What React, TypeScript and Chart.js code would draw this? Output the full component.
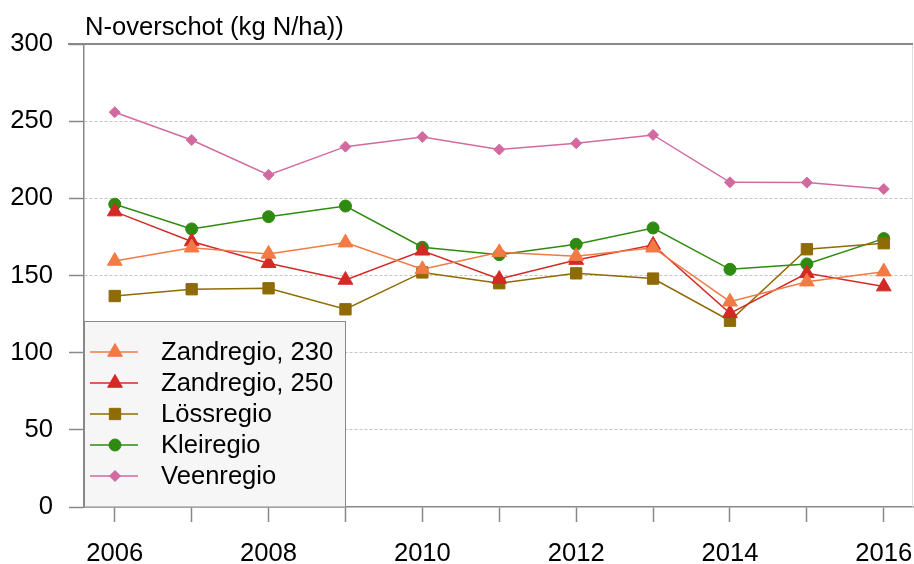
import React, { useEffect, useRef } from "react";
import { Chart, registerables } from "chart.js";
import { drawPoint } from "chart.js/helpers";

Chart.register(...registerables);

const years = [2006, 2007, 2008, 2009, 2010, 2011, 2012, 2013, 2014, 2015, 2016];
const zand230 = [159.4, 168, 164, 171.3, 154, 165, 162.5, 168, 133, 146, 152.5];
const zand250 = [191.4, 172, 157.9, 147.1, 166, 147.7, 160, 169.8, 125.5, 151.4, 142.8];
const loss = [136.7, 141.1, 141.7, 128.1, 152, 145, 151.4, 148, 120.7, 167, 170.9];
const klei = [196.2, 180.2, 188.1, 195, 168.3, 163.5, 170.2, 180.8, 154, 157.5, 173.9];
const veen = [255.8, 237.8, 215.2, 233.5, 239.8, 231.6, 235.7, 241.1, 210.4, 210.2, 206];
const seriesNames = ["Zandregio, 230", "Zandregio, 250", "Lössregio", "Kleiregio", "Veenregio"];
const yTicks = [0, 50, 100, 150, 200, 250, 300];
const titleText = "N-overschot (kg N/ha))";

const FONT = "'Liberation Sans', Arial, sans-serif";
const FS = 25.6;

export default function App() {
  const ref = useRef<HTMLCanvasElement>(null);
  useEffect(() => {
    if (!ref.current) return;
    const mk = (vals: number[]) => vals.map((v, i) => ({ x: years[i], y: v }));
    const styles = [
      { color: "#f27a44", style: "triangle", r: 8.5 },
      { color: "#d42a26", style: "triangle", r: 8.5 },
      { color: "#8e6b04", style: "rect", r: 8 },
      { color: "#2e8a10", style: "circle", r: 6 },
      { color: "#d26aa0", style: "rectRot", r: 5.5 },
    ];
    const allVals = [zand230, zand250, loss, klei, veen];
    const datasets = allVals.map((vals, i) => ({
      label: seriesNames[i],
      data: mk(vals),
      borderColor: styles[i].color,
      backgroundColor: styles[i].color,
      pointBackgroundColor: styles[i].color,
      pointBorderColor: styles[i].color,
      pointStyle: styles[i].style as any,
      pointRadius: styles[i].r,
      pointBorderWidth: 1,
      borderWidth: 1.5,
      tension: 0,
    }));

    const framePlugin = {
      id: "frame",
      beforeDatasetsDraw(chart: any) {
        const { ctx, chartArea } = chart;
        ctx.save();
        ctx.strokeStyle = "#dddddd";
        ctx.lineWidth = 1;
        ctx.beginPath();
        ctx.moveTo(chartArea.right - 0.5, chartArea.top);
        ctx.lineTo(chartArea.right - 0.5, chartArea.bottom);
        ctx.stroke();
        ctx.strokeStyle = "#888888";
        ctx.lineWidth = 2;
        ctx.beginPath();
        ctx.moveTo(chartArea.left - 16, chartArea.top);
        ctx.lineTo(chartArea.right, chartArea.top);
        ctx.stroke();
        ctx.restore();
      },
      afterDatasetsDraw(chart: any) {
        const { ctx, chartArea } = chart;
        ctx.save();
        // title
        ctx.fillStyle = "#000";
        ctx.font = `${FS}px ${FONT}`;
        ctx.textAlign = "left";
        ctx.textBaseline = "alphabetic";
        ctx.fillText(titleText, chartArea.left + 1, 35);
        // legend box
        const bx = chartArea.left + 0.5, by = 321.5, bw = 261, bh = chartArea.bottom - 321.5;
        ctx.fillStyle = "#f6f6f6";
        ctx.fillRect(bx, by, bw, bh);
        ctx.strokeStyle = "#888888";
        ctx.lineWidth = 1;
        ctx.strokeRect(bx, by, bw, bh);
        chart.data.datasets.forEach((ds: any, i: number) => {
          const cy = 352 + i * 31;
          ctx.strokeStyle = ds.borderColor;
          ctx.lineWidth = 1.5;
          ctx.beginPath();
          ctx.moveTo(90, cy);
          ctx.lineTo(138, cy);
          ctx.stroke();
          ctx.fillStyle = ds.pointBackgroundColor;
          ctx.strokeStyle = ds.pointBorderColor;
          ctx.lineWidth = 1;
          drawPoint(ctx, { pointStyle: ds.pointStyle, radius: ds.pointRadius, rotation: 0, borderWidth: 1 } as any, 115, cy);
          ctx.fillStyle = "#000";
          ctx.font = `${FS}px ${FONT}`;
          ctx.textBaseline = "middle";
          ctx.fillText(ds.label, 161, cy + 1);
        });
        ctx.restore();
      },
    };

    const chart = new Chart(ref.current, {
      type: "line",
      data: { datasets },
      options: {
        animation: false,
        responsive: false,
        maintainAspectRatio: false,
        layout: { autoPadding: false, padding: { left: 0, right: 1, top: 44, bottom: 0 } },
        plugins: { legend: { display: false }, title: { display: false }, tooltip: { enabled: false } },
        scales: {
          x: {
            type: "linear",
            min: 2005.6,
            max: 2016.38,
            afterFit: (s: any) => { s.height = 57; s.paddingLeft = 0; s.paddingRight = 0; },
            ticks: {
              stepSize: 1,
              autoSkip: false,
              includeBounds: false,
              maxRotation: 0,
              padding: 17,
              color: "#000",
              font: { size: FS, family: FONT },
              callback: (v: any) => (Number(v) % 2 === 0 ? String(v) : ""),
            },
            grid: { drawOnChartArea: false, drawTicks: true, tickLength: 15, tickColor: "#888888", tickWidth: 1.5 },
            border: { display: true, color: "#888888", width: 1.5 },
          },
          y: {
            min: 0,
            max: 300,
            afterFit: (s: any) => { s.width = 84; s.paddingTop = 0; s.paddingBottom = 0; },
            afterBuildTicks: (s: any) => { s.ticks = yTicks.map((v) => ({ value: v })); },
            ticks: {
              stepSize: 50,
              padding: 16,
              color: "#000",
              font: { size: FS, family: FONT },
            },
            grid: {
              color: (c: any) => (c.tick && (c.tick.value === 0 || c.tick.value === 300) ? "rgba(0,0,0,0)" : "#c4c4c4"),
              lineWidth: 1,
              drawTicks: true,
              tickLength: 15,
              tickColor: "#888888",
              tickWidth: 1.5,
            },
            border: { display: true, color: "#888888", width: 1.5, dash: [3, 2] },
          },
        },
      },
      plugins: [framePlugin],
    });
    return () => chart.destroy();
  }, []);
  return (
    <div style={{ position: "fixed", left: 0, top: 0, width: 914, height: 564, background: "#fff" }}>
      <canvas ref={ref} width={914} height={564} style={{ width: 914, height: 564, display: "block" }} />
    </div>
  );
}
